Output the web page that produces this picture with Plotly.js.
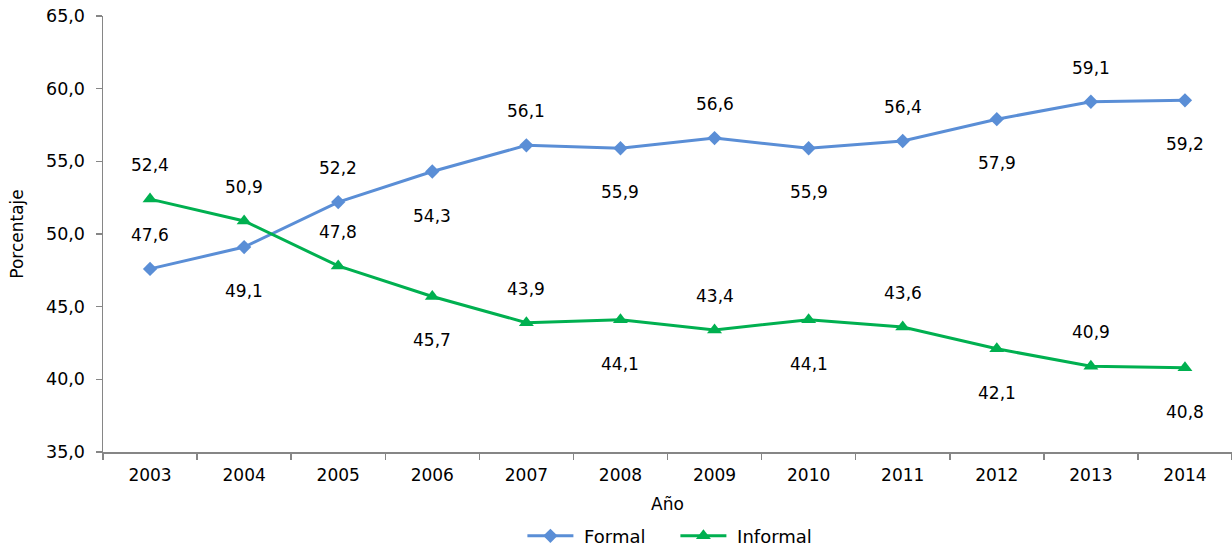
<!DOCTYPE html>
<html><head><meta charset="utf-8">
<script src="https://cdn.plot.ly/plotly-3.0.1.min.js"></script>
<style>html,body{margin:0;padding:0;background:#fff;}#chart{width:1232px;height:556px;}</style>
</head><body><div id="chart"></div>
<script>
const years = ['2003','2004','2005','2006','2007','2008','2009','2010','2011','2012','2013','2014'];
const formal = [47.6, 49.1, 52.2, 54.3, 56.1, 55.9, 56.6, 55.9, 56.4, 57.9, 59.1, 59.2];
const informal = [52.4, 50.9, 47.8, 45.7, 43.9, 44.1, 43.4, 44.1, 43.6, 42.1, 40.9, 40.8];
const formalLabelPos = ['up','down','up','down','up','down','up','down','up','down','up','down'];
const informalLabelPos = ['up','up','up','down','up','down','up','down','up','down','up','down'];

const FONT = 'DejaVu Sans, Verdana, sans-serif';
const fmt = v => v.toFixed(1).replace('.', ',');

const traces = [
  {x: years, y: formal, name: ' Formal', type: 'scatter', mode: 'lines+markers',
   line: {color: '#5A8ED6', width: 3}, marker: {symbol: 'diamond', size: 11, color: '#5A8ED6'}},
  {x: years, y: informal, name: ' Informal', type: 'scatter', mode: 'lines+markers',
   line: {color: '#00B050', width: 3}, marker: {symbol: 'triangle-up', size: 13, color: '#00B050'}}
];

const annotations = [];
function addLabels(vals, pos) {
  vals.forEach((v, i) => {
    annotations.push({x: i, y: v, xref: 'x', yref: 'y', text: fmt(v), showarrow: false,
      yshift: pos[i] === 'up' ? 34 : -44, font: {family: FONT, size: 17, color: '#000'}});
  });
}
addLabels(formal, formalLabelPos);
addLabels(informal, informalLabelPos);

const layout = {
  width: 1232, height: 556,
  margin: {l: 103, r: 0, t: 16, b: 104},
  paper_bgcolor: '#fff', plot_bgcolor: '#fff',
  separators: ',.',
  font: {family: FONT, size: 17, color: '#000'},
  showlegend: true,
  legend: {orientation: 'h', x: 0.507, xanchor: 'center', y: -0.193, yanchor: 'middle',
    font: {family: FONT, size: 18, color: '#000'}, itemwidth: 46,
    entrywidth: 92, entrywidthmode: 'pixels'},
  xaxis: {type: 'category', categoryorder: 'array', categoryarray: years, range: [-0.5, 11.5],
    showgrid: false, showline: true, linecolor: '#868686', linewidth: 1.5,
    ticks: 'outside', tickson: 'boundaries', ticklen: 6, tickcolor: '#868686', tickwidth: 1.5,
    ticklabelstandoff: 7, automargin: false,
    tickangle: 0, tickfont: {family: FONT, size: 17}, zeroline: false,
    title: {text: 'Año', font: {family: FONT, size: 17}, standoff: 14}},
  yaxis: {range: [35, 65], dtick: 5, tick0: 35, tickformat: '.1f', showgrid: false, zeroline: false,
    showline: true, linecolor: '#868686', linewidth: 1.5, ticks: 'outside', ticklen: 6,
    tickcolor: '#868686', tickwidth: 1.5, tickfont: {family: FONT, size: 17.5},
    ticklabelstandoff: 7, automargin: false,
    title: {text: 'Porcentaje', font: {family: FONT, size: 17}, standoff: 18}},
  annotations: annotations
};

Plotly.newPlot('chart', traces, layout, {displayModeBar: false, staticPlot: true});
</script>
</body></html>
